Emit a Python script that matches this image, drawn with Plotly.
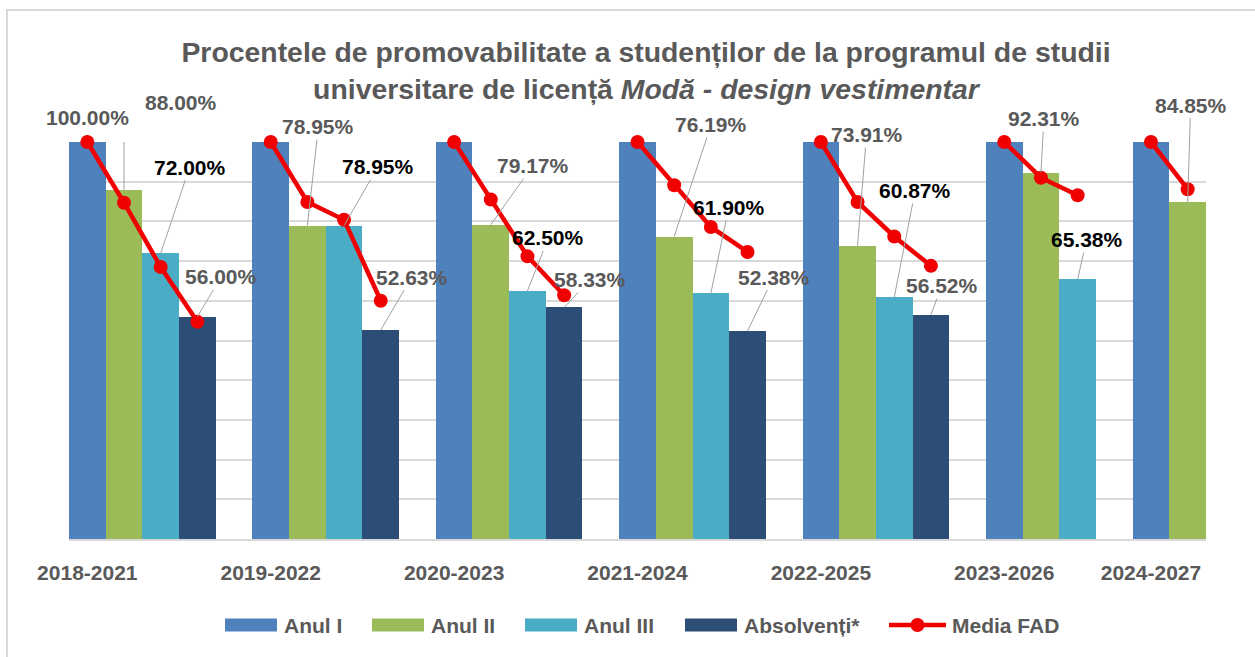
import plotly.graph_objects as go

# ---------------- data ----------------
categories = ["2018-2021", "2019-2022", "2020-2023", "2021-2024",
              "2022-2025", "2023-2026", "2024-2027"]

anul_I = [100.00, 100.00, 100.00, 100.00, 100.00, 100.00, 100.00]
anul_II = [88.00, 78.95, 79.17, 76.19, 73.91, 92.31, 84.85]
anul_III = [72.00, 78.95, 62.50, 61.90, 60.87, 65.38, None]
absolventi = [56.00, 52.63, 58.33, 52.38, 56.52, None, None]

# Media FAD, per study year
media_fad_I = [100.0, 100.0, 100.0, 100.0, 100.0, 100.0, 100.0]
media_fad_II = [84.7, 84.9, 85.5, 89.1, 84.9, 91.0, 88.1]
media_fad_III = [68.5, 80.4, 71.2, 78.6, 76.2, 86.6, None]
media_fad_abs = [54.7, 60.0, 61.4, 72.3, 68.8, None, None]

series_names = ["Anul I", "Anul II", "Anul III", "Absolvenți*"]
line_name = "Media FAD"

# ---------------- style / layout ----------------
series_colors = ["#4F81BD", "#9BBB59", "#4BACC6", "#2C4D75"]
line_color = "#F00000"
grey_text = "#595959"
grid_color = "#D9D9D9"
leader_color = "#A0A0A0"
FONT = "Liberation Sans"

W, H = 1255, 657
L, R, T, B = 69, 49, 142, 118
pw, ph = W - L - R, H - T - B


def fx(px):
    return (px - L) / pw


def fy(py):
    return (H - B - py) / ph


# label offsets in pixels (series index, cohort index) -> (dx, dy)
label_offsets = {
    (0, 0): (0, -25),
    (1, 0): (57, -87),
    (2, 0): (29, -86),
    (3, 0): (24, -40),
    (1, 1): (11, -99),
    (2, 1): (34, -59),
    (3, 1): (31, -53),
    (1, 2): (42, -59),
    (2, 2): (21, -53),
    (3, 2): (26, -28),
    (1, 3): (37, -112),
    (2, 3): (18, -86),
    (3, 3): (26, -54),
    (1, 4): (9, -111),
    (2, 4): (21, -107),
    (3, 4): (11, -29),
    (1, 5): (3, -54),
    (2, 5): (9, -40),
    (1, 6): (3, -97),
}
no_leader = {(0, 0)}
elbow_leader = {(1, 0)}
bold_black_series = {2}

# ---------------- slot positions (bars laid side by side, one gap per cohort) ----------------
series_values = [anul_I, anul_II, anul_III, absolventi]
media_values = [media_fad_I, media_fad_II, media_fad_III, media_fad_abs]

slots = {}
slot = 0
for c in range(len(categories)):
    for s, vals in enumerate(series_values):
        if vals[c] is not None:
            slots[(s, c)] = slot
            slot += 1
    slot += 1
last_slot = slot - 2

fig = go.Figure()

for s, vals in enumerate(series_values):
    xs, ys = [], []
    for c, v in enumerate(vals):
        if v is not None:
            xs.append(slots[(s, c)])
            ys.append(v)
    fig.add_trace(go.Bar(
        x=xs, y=ys, width=1.0, name=series_names[s],
        marker=dict(color=series_colors[s], line=dict(width=0)),
        showlegend=False, hoverinfo="skip"))

# Media FAD line, broken between cohorts
lx, ly = [], []
for c in range(len(categories)):
    for s in range(4):
        mv = media_values[s][c]
        if mv is not None and (s, c) in slots:
            lx.append(slots[(s, c)])
            ly.append(mv)
    lx.append(None)
    ly.append(None)
fig.add_trace(go.Scatter(
    x=lx, y=ly, mode="lines+markers", name=line_name,
    line=dict(color=line_color, width=4.5),
    marker=dict(color=line_color, size=14),
    cliponaxis=False, showlegend=False, connectgaps=False))

annotations = []
shapes = []

# data labels
for (s, c), (dx, dy) in label_offsets.items():
    v = series_values[s][c]
    color = "#000000" if s in bold_black_series else grey_text
    transparent = (s, c) in no_leader or (s, c) in elbow_leader
    annotations.append(dict(
        x=slots[(s, c)], y=v, xref="x", yref="y",
        text=f"<b>{v:.2f}%</b>",
        showarrow=True, ax=dx, ay=dy, arrowhead=0, arrowwidth=1,
        arrowcolor="rgba(0,0,0,0)" if transparent else leader_color,
        standoff=0,
        font=dict(family=FONT, size=21, color=color)))
    if (s, c) in elbow_leader:
        shapes.append(dict(
            type="path", xref="x", yref="y",
            xsizemode="pixel", ysizemode="pixel",
            xanchor=slots[(s, c)], yanchor=v,
            path=f"M0,0 L0,{-dy} L{dx - 44},{-dy}",
            line=dict(color=leader_color, width=1)))

# custom legend
legend_left = [225, 372, 525, 685]
sw_w, sw_top, sw_bot, leg_y = 52, 618.5, 631.5, 625
for i, name in enumerate(series_names):
    x0 = legend_left[i]
    shapes.append(dict(type="rect", xref="paper", yref="paper",
                       x0=fx(x0), x1=fx(x0 + sw_w), y0=fy(sw_bot), y1=fy(sw_top),
                       fillcolor=series_colors[i], line=dict(width=0)))
    annotations.append(dict(x=fx(x0 + sw_w + 5), y=fy(leg_y), xref="paper", yref="paper",
                            text=f"<b>{name}</b>", showarrow=False,
                            xanchor="left", yanchor="middle",
                            font=dict(family=FONT, size=21, color=grey_text)))
lx0, lx1 = 889, 946
shapes.append(dict(type="line", xref="paper", yref="paper",
                   x0=fx(lx0), x1=fx(lx1), y0=fy(leg_y), y1=fy(leg_y),
                   line=dict(color=line_color, width=4.5)))
mx = (lx0 + lx1) / 2
shapes.append(dict(type="circle", xref="paper", yref="paper",
                   x0=fx(mx - 7), x1=fx(mx + 7), y0=fy(leg_y + 7), y1=fy(leg_y - 7),
                   fillcolor=line_color, line=dict(width=0)))
annotations.append(dict(x=fx(lx1 + 4), y=fy(leg_y), xref="paper", yref="paper",
                        text=f"<b>{line_name}</b>", showarrow=False,
                        xanchor="left", yanchor="middle",
                        font=dict(family=FONT, size=21, color=grey_text)))

# chart border
shapes.append(dict(type="rect", xref="paper", yref="paper",
                   x0=fx(7), x1=fx(1262), y0=fy(664), y1=fy(10),
                   line=dict(color=grid_color, width=2), fillcolor="rgba(0,0,0,0)",
                   layer="below"))

tick_vals = [slots[(0, c)] for c in range(len(categories))]

fig.update_layout(
    width=W, height=H,
    margin=dict(l=L, r=R, t=T, b=B),
    paper_bgcolor="white", plot_bgcolor="white",
    barmode="overlay", bargap=0,
    title=dict(
        text="<b>Procentele de promovabilitate a studenților de la programul de studii<br>"
             "universitare de licență <i>Modă - design vestimentar</i></b>",
        x=646 / W, xanchor="center", xref="container",
        y=1 - 62 / H, yanchor="top", yref="container",
        font=dict(family=FONT, size=28.4, color=grey_text)),
    xaxis=dict(range=[-0.5, last_slot + 0.5], tickmode="array",
               tickvals=tick_vals, ticktext=[f"<b>{t}</b>" for t in categories],
               tickfont=dict(family=FONT, size=21, color=grey_text),
               ticks="outside", ticklen=14, tickcolor="rgba(0,0,0,0)",
               showgrid=False, zeroline=False,
               showline=True, linecolor=grid_color, linewidth=2),
    yaxis=dict(range=[0, 100], dtick=10, showticklabels=False,
               showgrid=True, gridcolor=grid_color, gridwidth=1.5,
               zeroline=False, showline=False),
    annotations=annotations, shapes=shapes,
    showlegend=False,
)

fig.write_html("out.html",
               config={"displayModeBar": False},
               post_script="document.body.style.margin='0';"
                           "document.body.style.overflow='hidden';")
